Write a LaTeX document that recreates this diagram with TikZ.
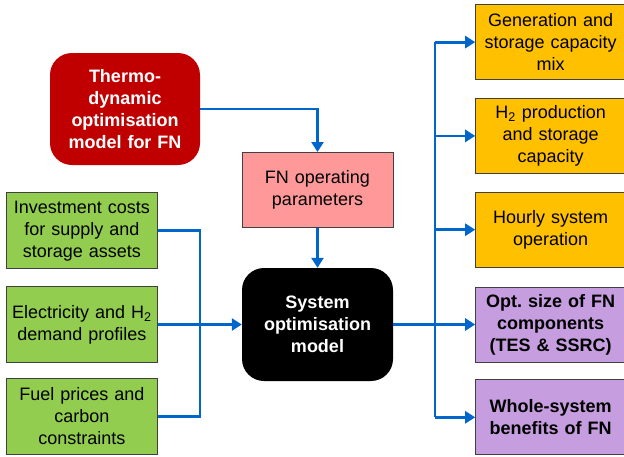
\documentclass[tikz,border=0pt]{standalone}
\usepackage{fontspec}
\setmainfont{Liberation Sans}
\usetikzlibrary{positioning, arrows.meta}
\definecolor{flowblue}{RGB}{0,102,204}
\definecolor{thermored}{RGB}{192,0,0}
\definecolor{parampink}{RGB}{255,153,153}
\definecolor{inputgreen}{RGB}{146,205,80}
\definecolor{resultgold}{RGB}{255,192,0}
\definecolor{resultlilac}{RGB}{198,158,224}
\tikzset{
  >={Triangle[length=10pt, width=12pt]},
  txt/.style={font=\fontsize{18}{22}\selectfont, align=center, text width=146pt, inner sep=2pt},
  rect/.style={txt, draw=black!75, line width=0.8pt, minimum width=151pt, minimum height=76pt},
  inbox/.style={rect, fill=inputgreen},
  outbox/.style={rect, fill=resultgold, minimum width=148pt, minimum height=75pt},
  keybox/.style={rect, fill=resultlilac, minimum width=148pt, minimum height=75pt, font=\fontsize{18}{22}\selectfont\bfseries},
  parambox/.style={rect, fill=parampink, minimum height=75pt},
  modelbox/.style={txt, rounded corners=22pt, minimum width=151pt, minimum height=113pt, text=white, font=\fontsize{18}{22}\selectfont\bfseries},
  flow/.style={draw=flowblue, line width=2.8pt},
}

\begin{document}
\begin{tikzpicture}[x=1pt, y=-1pt]
  \useasboundingbox (0,0) rectangle (624,456);

  % models and parameters
  \node[modelbox, fill=black] (sysmodel) at (317.5,324.5) {System\\optimisation\\model};
  \node[parambox, above=40pt of sysmodel] (params) {FN operating\\parameters};
  \node[modelbox, fill=thermored, minimum width=150pt, minimum height=112pt] (thermo) at (125,109) {Thermo-\\dynamic\\optimisation\\model for FN};

  % inputs
  \node[inbox, left=84pt of sysmodel] (demand) {Electricity and H\textsubscript{2}\\demand profiles};
  \node[inbox, above=17pt of demand] (invest) {Investment costs\\for supply and\\storage assets};
  \node[inbox, below=15pt of demand] (fuel) {Fuel prices and\\carbon\\constraints};

  % outputs
  \node[keybox, right=82pt of sysmodel] (optsize) {Opt.\ size of FN\\components\\(TES \& SSRC)};
  \node[outbox, above=19pt of optsize] (hourly) {Hourly system\\operation};
  \node[outbox, above=18pt of hourly] (h2cap) {H\textsubscript{2} production\\and storage\\capacity};
  \node[outbox, above=18pt of h2cap] (genmix) {Generation and\\storage capacity\\mix};
  \node[keybox, below=17pt of optsize] (benefits) {Whole-system\\benefits of FN};

  \coordinate (join) at (200,0 |- demand.east);
  \coordinate (split) at (435,0 |- optsize.west);

  % connectors
  \draw[flow, ->] (thermo.east) -| (params.north);
  \draw[flow, ->] (params.south) -- (sysmodel.north);
  \draw[flow] (invest.east) -| (join) |- (fuel.east);
  \draw[flow, ->] (demand.east) -- (sysmodel.west);
  \draw[flow, ->] (sysmodel.east) -- (optsize.west);
  \draw[flow] (genmix.west -| split) -- (benefits.west -| split);
  \foreach \out in {genmix, h2cap, hourly, benefits}
    \draw[flow, ->] (split |- \out.west) -- (\out.west);
\end{tikzpicture}
\end{document}
